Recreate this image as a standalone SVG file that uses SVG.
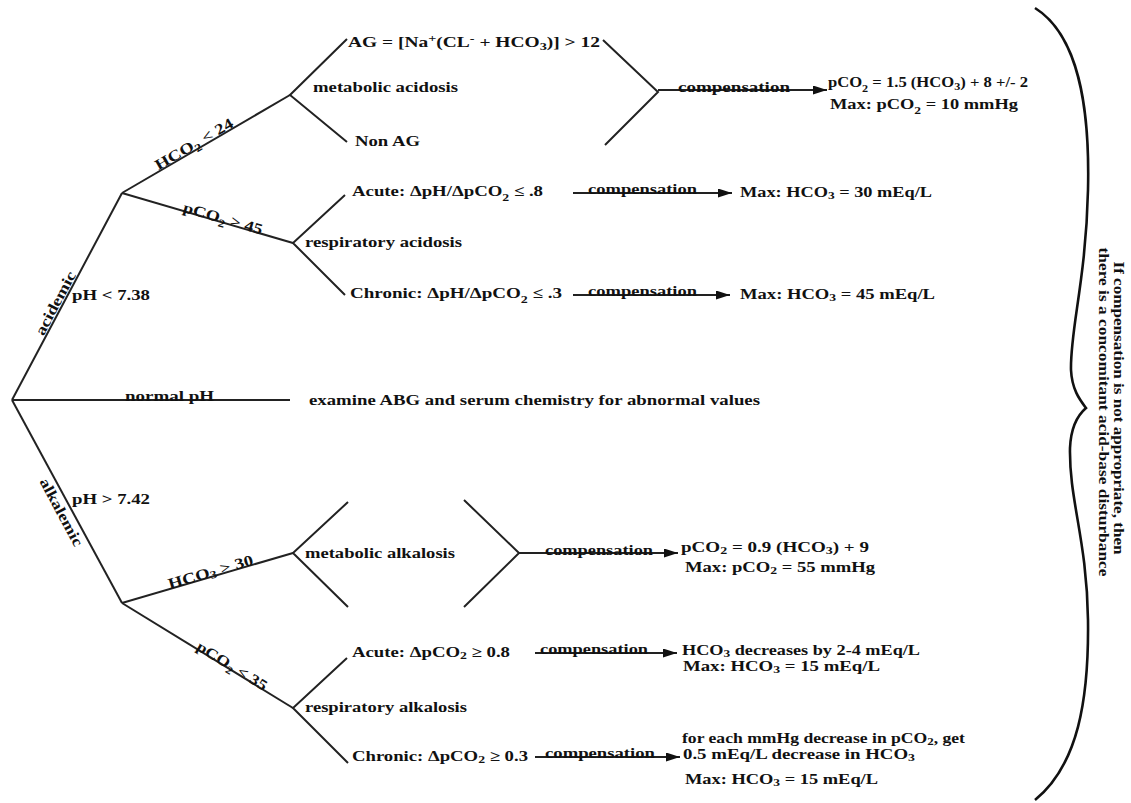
<svg xmlns="http://www.w3.org/2000/svg" width="1131" height="803" viewBox="0 0 1131 803">
<style>
.t{font-family:"Liberation Serif","Times New Roman",serif;font-weight:bold;font-size:15px;fill:#111}
.s{font-size:11px}
.l{stroke:#222;stroke-width:2;fill:none}
.a{stroke:#222;stroke-width:2;fill:none;marker-end:url(#ah)}
.br{stroke:#111;stroke-width:2.6;fill:none}
</style>
<defs>
<marker id="ah" markerUnits="userSpaceOnUse" markerWidth="14" markerHeight="9" refX="14" refY="4.5" orient="auto">
<path d="M0,0 L14,4.5 L0,9 z" fill="#111"/>
</marker>
</defs>
<rect width="1131" height="803" fill="#fff"/>

<g id="connectors">
<line class="l" x1="12" y1="400" x2="122" y2="193"/>
<line class="l" x1="12" y1="400" x2="290" y2="400"/>
<line class="l" x1="12" y1="400" x2="122" y2="603"/>
<line class="l" x1="122" y1="193" x2="290" y2="95"/>
<line class="l" x1="122" y1="193" x2="293" y2="243"/>
<polyline class="l" points="347,39 290,95 347,142"/>
<polyline class="l" points="603,40 658,92 605,145"/>
<line class="a" x1="658" y1="90" x2="827" y2="90"/>
<polyline class="l" points="345,195 293,243 345,295"/>
<line class="a" x1="573" y1="193" x2="732" y2="193"/>
<line class="a" x1="573" y1="295" x2="730" y2="295"/>
<line class="l" x1="122" y1="603" x2="293" y2="553"/>
<line class="l" x1="122" y1="603" x2="293" y2="708"/>
<polyline class="l" points="348,502 293,553 348,607"/>
<polyline class="l" points="464,500 519,553 464,607"/>
<line class="a" x1="519" y1="553" x2="678" y2="553"/>
<polyline class="l" points="347,658 293,708 348,763"/>
<line class="a" x1="535" y1="653" x2="677" y2="653"/>
<line class="a" x1="535" y1="757" x2="680" y2="757"/>
<path class="br" d="M1035,8 C1078,35 1090,105 1088,190 C1086,280 1070,330 1071,370 C1072,390 1080,400 1086,408 C1079,414 1071,425 1070,448 C1069,500 1087,540 1088,620 C1089,700 1078,765 1035,800"/>
</g>

<g id="n-root">
<text class="t" transform="translate(61.6,306.6) rotate(-62)" x="0" y="-2" text-anchor="middle" textLength="70" lengthAdjust="spacingAndGlyphs">acidemic</text>
<text class="t" x="72" y="300" textLength="78" lengthAdjust="spacingAndGlyphs">pH &lt; 7.38</text>
<text class="t" x="125" y="401" textLength="89" lengthAdjust="spacingAndGlyphs">normal pH</text>
<text class="t" transform="translate(70.2,507.4) rotate(61.55)" x="0" y="15" text-anchor="middle" textLength="75" lengthAdjust="spacingAndGlyphs">alkalemic</text>
<text class="t" x="72" y="504" textLength="78" lengthAdjust="spacingAndGlyphs">pH &gt; 7.42</text>
</g>

<g id="n-normal">
<text class="t" x="309" y="405" textLength="451" lengthAdjust="spacingAndGlyphs">examine ABG and serum chemistry for abnormal values</text>
</g>

<g id="n-acid-labels">
<text class="t" transform="translate(197,149.2) rotate(-30.26)" x="0" y="-1" text-anchor="middle" textLength="88" lengthAdjust="spacingAndGlyphs">HCO<tspan class="s" dy="4">2</tspan><tspan dy="-4"> &lt; 24</tspan></text>
<text class="t" transform="translate(222,222.2) rotate(16.3)" x="0" y="1" text-anchor="middle" textLength="82" lengthAdjust="spacingAndGlyphs">pCO<tspan class="s" dy="4">2</tspan><tspan dy="-4"> &gt; 45</tspan></text>
</g>

<g id="n-metabolic-acidosis">
<text class="t" x="348" y="47" textLength="252" lengthAdjust="spacingAndGlyphs">AG = [Na<tspan class="s" dy="-5">+</tspan><tspan dy="5">(CL</tspan><tspan class="s" dy="-5">-</tspan><tspan dy="5"> + HCO</tspan><tspan class="s" dy="3">3</tspan><tspan dy="-3">)] &gt; 12</tspan></text>
<text class="t" x="313" y="92" textLength="145" lengthAdjust="spacingAndGlyphs">metabolic acidosis</text>
<text class="t" x="355" y="146" textLength="65" lengthAdjust="spacingAndGlyphs">Non AG</text>
<text class="t" x="678" y="92" textLength="112" lengthAdjust="spacingAndGlyphs">compensation</text>
<text class="t" x="828" y="87" textLength="200" lengthAdjust="spacingAndGlyphs">pCO<tspan class="s" dy="5">2</tspan><tspan dy="-5"> = 1.5 (HCO</tspan><tspan class="s" dy="3">3</tspan><tspan dy="-3">) + 8 +/- 2</tspan></text>
<text class="t" x="830" y="109" textLength="188" lengthAdjust="spacingAndGlyphs">Max: pCO<tspan class="s" dy="5">2</tspan><tspan dy="-5"> = 10 mmHg</tspan></text>
</g>

<g id="n-respiratory-acidosis">
<text class="t" x="352" y="196" textLength="191" lengthAdjust="spacingAndGlyphs">Acute: ΔpH/ΔpCO<tspan class="s" dy="5">2</tspan><tspan dy="-5"> ≤ .8</tspan></text>
<text class="t" x="305" y="247" textLength="157" lengthAdjust="spacingAndGlyphs">respiratory acidosis</text>
<text class="t" x="350" y="298" textLength="212" lengthAdjust="spacingAndGlyphs">Chronic: ΔpH/ΔpCO<tspan class="s" dy="5">2</tspan><tspan dy="-5"> ≤ .3</tspan></text>
<text class="t" x="588" y="194" textLength="109" lengthAdjust="spacingAndGlyphs">compensation</text>
<text class="t" x="740" y="197" textLength="192" lengthAdjust="spacingAndGlyphs">Max: HCO<tspan class="s" dy="2">3</tspan><tspan dy="-2"> = 30 mEq/L</tspan></text>
<text class="t" x="588" y="296" textLength="109" lengthAdjust="spacingAndGlyphs">compensation</text>
<text class="t" x="740" y="299" textLength="195" lengthAdjust="spacingAndGlyphs">Max: HCO<tspan class="s" dy="2">3</tspan><tspan dy="-2"> = 45 mEq/L</tspan></text>
</g>

<g id="n-alk-labels">
<text class="t" transform="translate(212,576.7) rotate(-16.3)" x="0" y="0" text-anchor="middle" textLength="88" lengthAdjust="spacingAndGlyphs">HCO<tspan class="s" dy="2">3</tspan><tspan dy="-2"> &gt; 30</tspan></text>
<text class="t" transform="translate(230,669.3) rotate(31.55)" x="0" y="1" text-anchor="middle" textLength="80" lengthAdjust="spacingAndGlyphs">pCO<tspan class="s" dy="4">2</tspan><tspan dy="-4"> &lt; 35</tspan></text>
</g>

<g id="n-metabolic-alkalosis">
<text class="t" x="305" y="558" textLength="150" lengthAdjust="spacingAndGlyphs">metabolic alkalosis</text>
<text class="t" x="545" y="555" textLength="108" lengthAdjust="spacingAndGlyphs">compensation</text>
<text class="t" x="681" y="552" textLength="188" lengthAdjust="spacingAndGlyphs">pCO<tspan class="s" dy="2">2</tspan><tspan dy="-2"> = 0.9 (HCO</tspan><tspan class="s" dy="2">3</tspan><tspan dy="-2">) + 9</tspan></text>
<text class="t" x="685" y="572" textLength="190" lengthAdjust="spacingAndGlyphs">Max: pCO<tspan class="s" dy="2">2</tspan><tspan dy="-2"> = 55 mmHg</tspan></text>
</g>

<g id="n-respiratory-alkalosis">
<text class="t" x="352" y="657" textLength="158" lengthAdjust="spacingAndGlyphs">Acute: ΔpCO<tspan class="s" dy="2">2</tspan><tspan dy="-2"> ≥ 0.8</tspan></text>
<text class="t" x="305" y="712" textLength="162" lengthAdjust="spacingAndGlyphs">respiratory alkalosis</text>
<text class="t" x="352" y="761" textLength="176" lengthAdjust="spacingAndGlyphs">Chronic: ΔpCO<tspan class="s" dy="2">2</tspan><tspan dy="-2"> ≥ 0.3</tspan></text>
<text class="t" x="540" y="654" textLength="108" lengthAdjust="spacingAndGlyphs">compensation</text>
<text class="t" x="682" y="655" textLength="238" lengthAdjust="spacingAndGlyphs">HCO<tspan class="s" dy="2">3</tspan><tspan dy="-2"> decreases by 2-4 mEq/L</tspan></text>
<text class="t" x="683" y="671" textLength="197" lengthAdjust="spacingAndGlyphs">Max: HCO<tspan class="s" dy="2">3</tspan><tspan dy="-2"> = 15 mEq/L</tspan></text>
<text class="t" x="545" y="758" textLength="110" lengthAdjust="spacingAndGlyphs">compensation</text>
<text class="t" x="682" y="743" textLength="283" lengthAdjust="spacingAndGlyphs">for each mmHg decrease in pCO<tspan class="s" dy="2">2</tspan><tspan dy="-2">, get</tspan></text>
<text class="t" x="683" y="759" textLength="232" lengthAdjust="spacingAndGlyphs">0.5 mEq/L decrease in HCO<tspan class="s" dy="2">3</tspan></text>
<text class="t" x="685" y="784" textLength="193" lengthAdjust="spacingAndGlyphs">Max: HCO<tspan class="s" dy="2">3</tspan><tspan dy="-2"> = 15 mEq/L</tspan></text>
</g>

<g id="n-note">
<text class="t" transform="translate(1114,408) rotate(90)" x="0" y="0" text-anchor="middle" textLength="293" lengthAdjust="spacingAndGlyphs">If compensation is not appropriate, then</text>
<text class="t" transform="translate(1099,412) rotate(90)" x="0" y="0" text-anchor="middle" textLength="329" lengthAdjust="spacingAndGlyphs">there is a concomitant acid-base disturbance</text>
</g>
</svg>
